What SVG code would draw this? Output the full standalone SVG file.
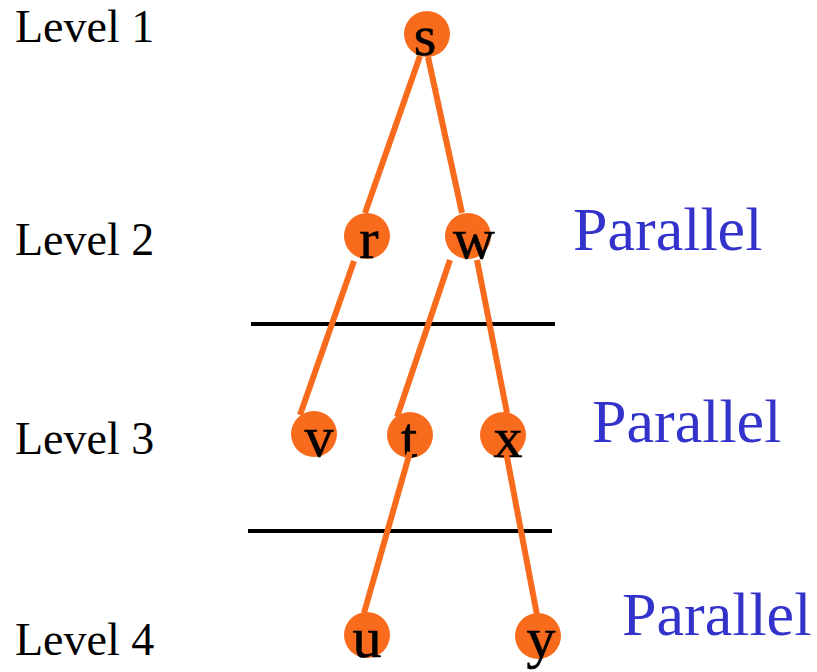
<svg xmlns="http://www.w3.org/2000/svg" width="817" height="672" viewBox="0 0 817 672">
<style>
.lvl{font-family:"Liberation Serif","Times New Roman",serif;font-size:46px;fill:#000}
.par{font-family:"Liberation Serif","Times New Roman",serif;font-size:62px;fill:#3333CC}
.nd{fill:#F96B1C}
.lt{font-family:"Liberation Serif","Times New Roman",serif;font-size:58px;fill:#000;text-anchor:middle;stroke:#000;stroke-width:0.6}
.edge{stroke:#F96B1C;stroke-width:6;fill:none}
.sep{stroke:#000;stroke-width:4}
</style>
<rect width="817" height="672" fill="#fff"/>
<g id="labels">
<text class="lvl" x="15" y="42">Level 1</text>
<text class="lvl" x="15" y="255">Level 2</text>
<text class="lvl" x="15" y="454">Level 3</text>
<text class="lvl" x="15" y="655">Level 4</text>
<text class="par" x="573" y="250">Parallel</text>
<text class="par" x="592" y="442">Parallel</text>
<text class="par" x="622" y="635">Parallel</text>
</g>
<g id="separators">
<line class="sep" x1="251" y1="324" x2="555" y2="324"/>
<line class="sep" x1="248" y1="531" x2="552" y2="531"/>
</g>
<g id="node-s"><circle class="nd" cx="427" cy="34" r="23"/><text class="lt" x="425" y="55">s</text></g>
<g id="node-r"><circle class="nd" cx="367" cy="236" r="23"/><text class="lt" x="369" y="258">r</text></g>
<g id="node-w"><circle class="nd" cx="468" cy="236" r="23"/><text class="lt" x="474" y="258">w</text></g>
<g id="node-v"><circle class="nd" cx="314" cy="434" r="23"/><text class="lt" x="319" y="456">v</text></g>
<g id="node-t"><circle class="nd" cx="410" cy="435" r="23"/><text class="lt" x="409" y="457">t</text></g>
<g id="node-x"><circle class="nd" cx="503" cy="435" r="23"/><text class="lt" x="508" y="457">x</text></g>
<g id="node-u"><circle class="nd" cx="367" cy="635" r="23"/><text class="lt" x="367" y="657">u</text></g>
<g id="node-y"><circle class="nd" cx="538" cy="636" r="23"/><text class="lt" x="541" y="657">y</text></g>
<g id="connectors">
<line class="edge" x1="420" y1="56" x2="365" y2="213"/>
<line class="edge" x1="428" y1="57" x2="462" y2="213"/>
<line class="edge" x1="354" y1="261" x2="300" y2="415"/>
<line class="edge" x1="450" y1="260" x2="397" y2="417"/>
<line class="edge" x1="477" y1="260" x2="507" y2="413"/>
<line class="edge" x1="410" y1="452" x2="364" y2="613"/>
<line class="edge" x1="507" y1="457" x2="537" y2="615"/>
</g>
</svg>
